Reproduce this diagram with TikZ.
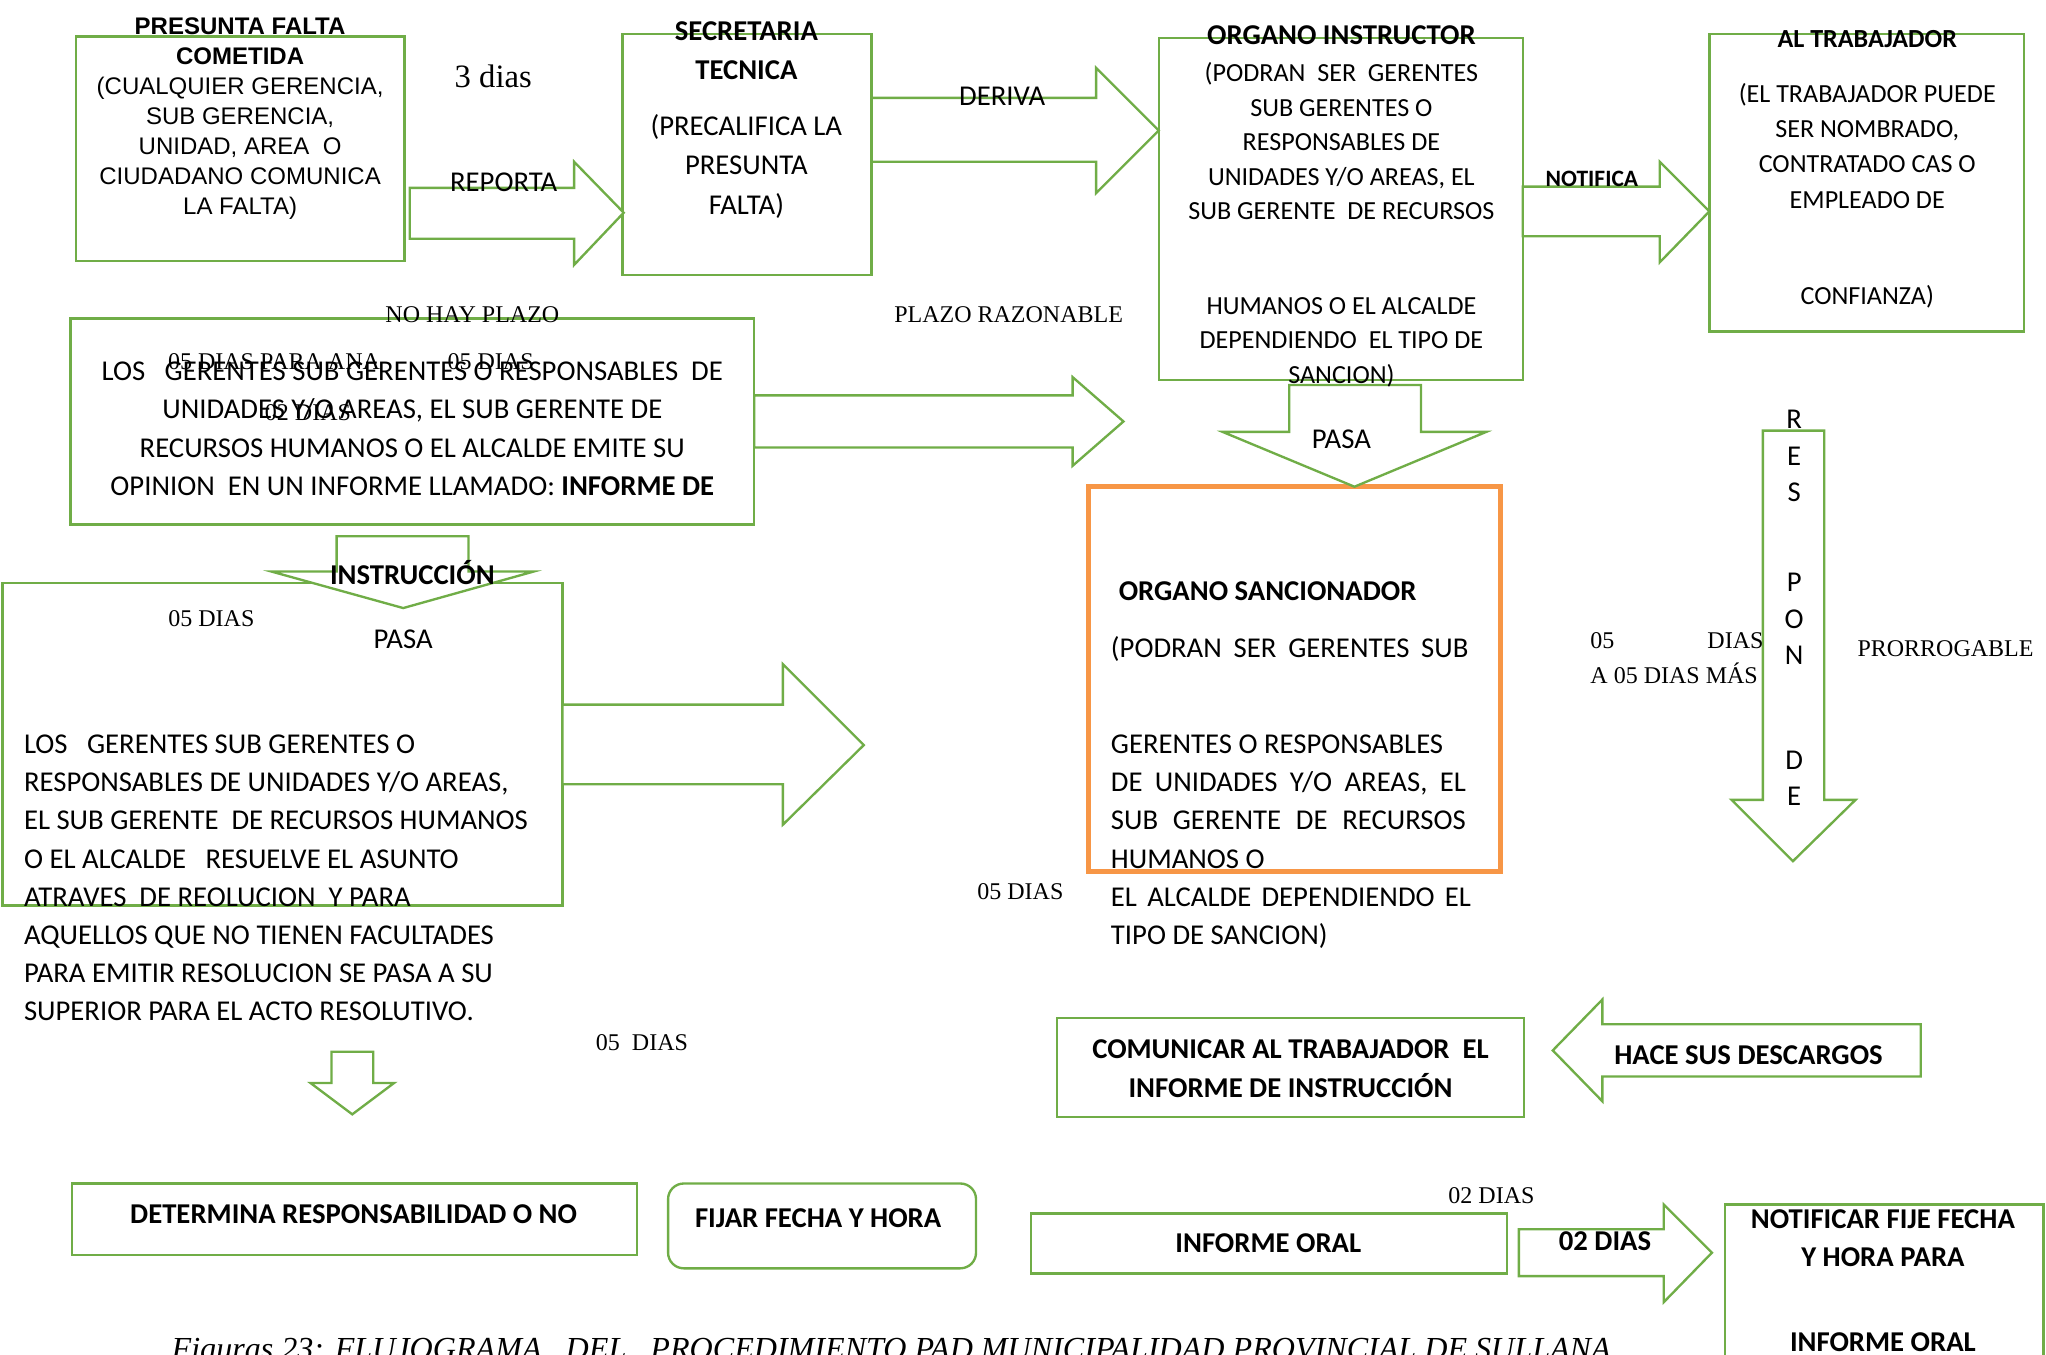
\documentclass[tikz,border=0pt]{standalone}
\usepackage{fontspec}
\setmainfont{Carlito}
\newfontfamily\arialf{Liberation Sans}
\newfontfamily\timesf{Liberation Serif}
\usepackage{tikz}
\usetikzlibrary{fit}
\definecolor{verde}{RGB}{112,173,71}
\definecolor{naranja}{RGB}{247,150,70}
\tikzset{%
  % Specifications for style of boxes and arrows:
  caja/.style = {rectangle, draw=verde, line width=0.9pt, inner sep=0pt},
  sancion/.style = {caja, draw=naranja, line width=1.8pt},
  flecha/.style = {draw=verde, line width=0.9pt, fill=white, line join=miter},
  % Specifications for style of texts:
  texto/.style = {inner sep=0pt, align=center, font=\fontsize{11}{14.6}\selectfont},
  textochico/.style = {inner sep=0pt, align=center, font=\fontsize{10}{13.25}\selectfont},
  titulo/.style = {inner sep=0pt, align=center, font=\bfseries\fontsize{11}{15}\selectfont},
  arial/.style = {inner sep=0pt, align=center, font=\arialf\fontsize{9.2}{11.5}\selectfont},
  plazo/.style = {inner sep=0pt, anchor=base, font=\timesf\fontsize{9.2}{11}\selectfont},
}

\begin{document}
\begin{tikzpicture}[x=0.5pt, y=-0.5pt]
        \useasboundingbox (0,0) rectangle (1568,1038);
        \clip (0,0) rectangle (1568,1038);
        % Boxes
        \node(pf)[caja, fit={(58,28) (310,200)}]{};
        \node(st)[caja, fit={(477,26) (668,211)}]{};
        \node(oi)[caja, fit={(888,29) (1167,291)}]{};
        \node(at)[caja, fit={(1310,26) (1551,254)}]{};
        \node(ig)[caja, fit={(54,244) (578,402)}]{};
        \node(rs)[caja, fit={(2,447) (431,694)}]{};
        \node(os)[sancion, fit={(834,373) (1150,668)}]{};
        \node(com)[caja, fit={(810,780) (1168,856)}]{};
        \node(det)[caja, fit={(55,907) (488,962)}]{};
        \node(fij)[caja, rounded corners=6pt, fit={(512,907) (748,972)}]{};
        \node(ior)[caja, fit={(790,930) (1155,976)}]{};
        \node(nf)[caja, fit={(1322,923) (1566,1045)}]{};

        % Block arrows
        \draw[flecha] (314,144) -- (440,144) -- (440,124) -- (478,163) -- (440,203) -- (440,183) -- (314,183) -- cycle;
        \draw[flecha] (668,75) -- (840,75) -- (840,52) -- (888,100) -- (840,148) -- (840,124) -- (668,124) -- cycle;
        \draw[flecha] (1167,143) -- (1272,143) -- (1272,124) -- (1310,162) -- (1272,201) -- (1272,181) -- (1167,181) -- cycle;
        \draw[flecha] (578,303) -- (822,303) -- (822,289) -- (861,323) -- (822,357) -- (822,343) -- (578,343) -- cycle;
        \draw[flecha] (258,411) -- (359,411) -- (359,438) -- (409,438) -- (309,466) -- (208,438) -- (258,438) -- cycle;
        \draw[flecha] (431,540) -- (600,540) -- (600,509) -- (662,571) -- (600,632) -- (600,601) -- (431,601) -- cycle;
        \draw[flecha] (988,295) -- (1089,295) -- (1089,331) -- (1139,331) -- (1038,373) -- (937,331) -- (988,331) -- cycle;
        \draw[flecha] (1351,330) -- (1398,330) -- (1398,613) -- (1422,613) -- (1374,660) -- (1327,613) -- (1351,613) -- cycle;
        \draw[flecha] (1472,785) -- (1228,785) -- (1228,766) -- (1190,805) -- (1228,844) -- (1228,825) -- (1472,825) -- cycle;
        \draw[flecha] (254,806) -- (286,806) -- (286,830) -- (302,830) -- (270,854) -- (238,830) -- (254,830) -- cycle;
        \draw[flecha] (1164,942) -- (1275,942) -- (1275,923) -- (1312,960) -- (1275,998) -- (1275,978) -- (1164,978) -- cycle;

        % Texts of the boxes
        \node(pftxt)[arial, anchor=north] at (184,13.4){\textbf{PRESUNTA FALTA}\\\textbf{COMETIDA}\\
          (CUALQUIER GERENCIA,\\SUB GERENCIA,\\UNIDAD, AREA\ \ O\\CIUDADANO COMUNICA\\LA FALTA)};
        \node(sttit)[titulo, anchor=north] at (572,16){SECRETARIA\\TECNICA};
        \node(sttxt)[texto, anchor=north, font=\fontsize{11}{15}\selectfont] at (572,87.6){(PRECALIFICA LA\\PRESUNTA\\FALTA)};
        \node(oitit)[titulo, anchor=base] at (1028,34){ORGANO INSTRUCTOR};
        \node(oitxt)[textochico, anchor=north] at (1028,47.5){(PODRAN\ \ SER\ \ GERENTES\\SUB GERENTES O\\
          RESPONSABLES DE\\UNIDADES Y/O AREAS, EL\\SUB GERENTE\ \ DE RECURSOS};
        \node(oitxtb)[textochico, anchor=north] at (1028,227.5){HUMANOS O EL ALCALDE\\DEPENDIENDO\ \ EL TIPO DE\\SANCION)};
        \node(attit)[titulo, anchor=base, font=\bfseries\fontsize{10}{13}\selectfont] at (1431,36.5){AL TRABAJADOR};
        \node(attxt)[textochico, anchor=north, font=\fontsize{10}{13.5}\selectfont] at (1431,63.5){(EL TRABAJADOR PUEDE\\SER NOMBRADO,\\
          CONTRATADO CAS O\\EMPLEADO DE};
        \node(attxtb)[textochico, anchor=base] at (1431,233.5){CONFIANZA)};
        \node(igtxt)[texto, anchor=north, font=\fontsize{11}{14.65}\selectfont] at (316,277){LOS\ \ \ GERENTES SUB GERENTES O RESPONSABLES\ \ DE\\
          UNIDADES Y/O AREAS, EL SUB GERENTE DE\\RECURSOS HUMANOS O EL ALCALDE EMITE SU\\
          OPINION\ \ EN UN INFORME LLAMADO: \textbf{INFORME DE}};
        \node(igtit)[titulo, anchor=base] at (316,448){INSTRUCCIÓN};
        \node(ostit)[titulo, anchor=base west] at (857,460){ORGANO SANCIONADOR};
        \node(ostxt)[texto, anchor=base west] at (851,504){\makebox[137pt][s]{(PODRAN SER GERENTES SUB}};
        \node(ostxtb)[texto, anchor=north west, align=left] at (851,563){GERENTES O RESPONSABLES\\
          \makebox[136pt][s]{DE UNIDADES Y/O AREAS, EL}\\\makebox[136pt][s]{SUB GERENTE DE RECURSOS}\\
          HUMANOS O\\\makebox[138pt][s]{EL ALCALDE DEPENDIENDO EL}\\TIPO DE SANCION)};
        \node(rstxt)[texto, anchor=north west, align=left] at (18,563){LOS\ \ \ GERENTES SUB GERENTES O\\
          RESPONSABLES DE UNIDADES Y/O AREAS,\\EL SUB GERENTE\ \ DE RECURSOS HUMANOS\\
          O EL ALCALDE\ \ \ RESUELVE EL ASUNTO\\ATRAVES\ \ DE REOLUCION\ \ Y PARA\\
          AQUELLOS QUE NO TIENEN FACULTADES\\PARA EMITIR RESOLUCION SE PASA A SU\\
          SUPERIOR PARA EL ACTO RESOLUTIVO.};
        \node(comtxt)[titulo, anchor=north] at (989,796){COMUNICAR AL TRABAJADOR\ \ EL\\INFORME DE INSTRUCCIÓN};
        \node(dettxt)[titulo, anchor=base] at (271,938){DETERMINA RESPONSABILIDAD O NO};
        \node(fijtxt)[titulo, anchor=base] at (627,941){FIJAR FECHA Y HORA};
        \node(iortxt)[titulo, anchor=base] at (972,960){INFORME ORAL};
        \node(nftxt)[titulo, anchor=north, font=\bfseries\fontsize{11}{14.5}\selectfont] at (1443,927){NOTIFICAR FIJE FECHA\\Y HORA PARA};
        \node(nftxtb)[titulo, anchor=base] at (1443,1036){INFORME ORAL};

        % Texts of the arrows
        \node(reporta)[texto, anchor=base] at (386,147){REPORTA};
        \node(deriva)[texto, anchor=base] at (768,81){DERIVA};
        \node(notifica)[titulo, anchor=base, font=\bfseries\fontsize{9}{11}\selectfont] at (1220,143){NOTIFICA};
        \node(pasa)[texto, anchor=base] at (1028,344){PASA};
        \node(pasab)[texto, anchor=base] at (309,497){PASA};
        \node(responde)[texto, anchor=north, font=\fontsize{11}{14}\selectfont] at (1375,314){R\\E\\S\\[20.5pt]P\\O\\N\\[26pt]D\\E};
        \node(descargos)[titulo, anchor=base] at (1340,816){HACE SUS DESCARGOS};
        \node(dosdias)[titulo, anchor=base] at (1230,958){02 DIAS};

        % Plazos
        \node(tres)[plazo, font=\timesf\fontsize{12.5}{14}\selectfont] at (378,67){3 dias};
        \node(nohay)[plazo] at (362,247){NO HAY PLAZO};
        \node(razonable)[plazo] at (773,247){PLAZO RAZONABLE};
        \node(paraana)[plazo] at (210,283){05 DIAS PARA ANA};
        \node(cincoa)[plazo] at (376,283){05 DIAS};
        \node(dosa)[plazo] at (236,322){02 DIAS};
        \node(cincob)[plazo] at (162,480){05 DIAS};
        \node(cincoc)[plazo] at (1228,497){05};
        \node(diasc)[plazo] at (1330,497){DIAS};
        \node(mas)[plazo] at (1283,524){A 05 DIAS MÁS};
        \node(prorroga)[plazo] at (1491,503){PRORROGABLE};
        \node(cincod)[plazo] at (782,689){05 DIAS};
        \node(cincoe)[plazo] at (492,805){05\ \ DIAS};
        \node(dosb)[plazo] at (1143,922){02 DIAS};

        % Caption
        \node(figura)[plazo, font=\timesf\itshape\fontsize{12.3}{14}\selectfont] at (683,1042){Figuras 23: FLUJOGRAMA\ \ \ DEL\ \ \ PROCEDIMIENTO PAD MUNICIPALIDAD PROVINCIAL DE SULLANA};
    \end{tikzpicture}
\end{document}
